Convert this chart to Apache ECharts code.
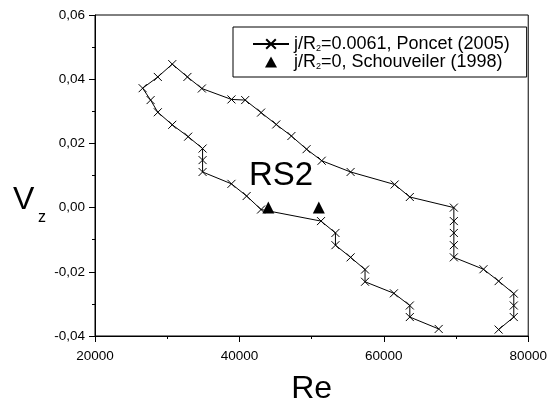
<!DOCTYPE html>
<html>
<head>
<meta charset="utf-8">
<script src="https://cdn.jsdelivr.net/npm/echarts@6/dist/echarts.min.js"></script>
<style>html,body{margin:0;padding:0;background:#fff}#c{width:550px;height:410px}</style>
</head>
<body>
<div id="c"></div>
<script>
// Poncet (2005), j/R2 = 0.0061 : Re and Vz along the curve (drawing order)
const poncetRe = [67600, 63600, 63600, 61400, 57400, 57400, 55400, 53300, 53300, 51300,
  43000, 41000, 38900, 34900, 34900, 34900, 32900, 30700, 28700, 27700,
  26600, 28700, 30700, 32800, 34800, 38900, 40800, 43000, 45100, 47200,
  49300, 51400, 55400, 61500, 63600, 69700, 69700, 69700, 69700, 69700,
  73800, 75900, 78000, 78000, 78000, 75900];
const poncetVz = [-0.0378, -0.0341, -0.0305, -0.0267, -0.0231, -0.0193, -0.0155, -0.0117, -0.0079, -0.0042,
  -0.0006, 0.0036, 0.0074, 0.0111, 0.0148, 0.0184, 0.0221, 0.0258, 0.0297, 0.0335,
  0.0372, 0.0407, 0.0447, 0.0407, 0.0371, 0.0337, 0.0335, 0.0296, 0.0259, 0.0223,
  0.0182, 0.0146, 0.0111, 0.0072, 0.0033, 0.0000, -0.0042, -0.0079, -0.0117, -0.0155,
  -0.0192, -0.0229, -0.0268, -0.0305, -0.0341, -0.0380];
// Schouveiler (1998), j/R2 = 0
const schouRe = [44000, 51000];
const schouVz = [0.0, 0.0];

const xTicks = [20000, 40000, 60000, 80000];
const yTicks = [-0.04, -0.02, 0.00, 0.02, 0.04, 0.06];

const seriesNames = ['j/R2=0.0061, Poncet (2005)', 'j/R2=0, Schouveiler (1998)'];
const legendRich = {
  [seriesNames[0]]: '{t|j/R}{s|2}{t|=0.0061, Poncet (2005)}',
  [seriesNames[1]]: '{t|j/R}{s|2}{t|=0, Schouveiler (1998)}'
};

const FONT = '"Liberation Sans", Arial, Helvetica, sans-serif';
const chart = echarts.init(document.getElementById('c'), null, {renderer: 'canvas'});

const crossPath = 'path://M0,0L10,10M10,0L0,10';
// legend icon: a 12x11 triangle centred in a 36x12 box (the moveTo points fix the box)
const legendTriangle = 'path://M0,0M36,12M12,11.5L18,0.5L24,11.5Z';

chart.setOption({
  animation: false,
  backgroundColor: '#fff',
  textStyle: {fontFamily: FONT, color: '#000'},
  grid: {left: 95, right: 17, top: 15, bottom: 71, show: true, borderColor: '#000', borderWidth: 1, backgroundColor: 'transparent'},
  xAxis: {
    type: 'value', min: xTicks[0], max: xTicks[xTicks.length - 1], interval: 20000,
    axisLine: {show: true, onZero: false, lineStyle: {color: '#000', width: 1}},
    axisTick: {show: true, inside: false, length: 6, lineStyle: {color: '#000'}},
    minorTick: {show: true, splitNumber: 2, length: 3, lineStyle: {color: '#000'}},
    splitLine: {show: false},
    axisLabel: {fontSize: 13.5, color: '#000', fontFamily: FONT, margin: 13, formatter: v => String(v)},
    name: 'Re', nameLocation: 'middle', nameGap: 37,
    nameTextStyle: {fontSize: 32, color: '#000', fontFamily: FONT}
  },
  yAxis: {
    type: 'value', min: yTicks[0], max: yTicks[yTicks.length - 1], interval: 0.02,
    axisLine: {show: true, onZero: false, lineStyle: {color: '#000', width: 1}},
    axisTick: {show: true, inside: false, length: 6, lineStyle: {color: '#000'}},
    minorTick: {show: true, splitNumber: 2, length: 3, lineStyle: {color: '#000'}},
    splitLine: {show: false},
    axisLabel: {fontSize: 13.5, color: '#000', fontFamily: FONT, margin: 10,
      formatter: v => v.toFixed(2).replace('.', ',')}
  },
  legend: {
    left: 233, top: 27, orient: 'vertical',
    padding: [8, 17, 6, 19], itemGap: 0, itemWidth: 36, itemHeight: 12,
    borderColor: '#000', borderWidth: 1, borderRadius: 0, backgroundColor: '#fff',
    data: [{name: seriesNames[0]}, {name: seriesNames[1], icon: legendTriangle}],
    formatter: name => legendRich[name],
    textStyle: {
      color: '#000', fontFamily: FONT, fontSize: 18,
      rich: {
        t: {fontSize: 18, lineHeight: 18, fontFamily: FONT, color: '#000'},
        s: {fontSize: 9, lineHeight: 18, fontFamily: FONT, color: '#000', verticalAlign: 'bottom'}
      }
    }
  },
  graphic: [
    {type: 'text', left: 13, top: 184, style: {text: 'V', fontSize: 32, fontFamily: FONT, fill: '#000'}},
    {type: 'text', left: 38, top: 210, style: {text: 'z', fontSize: 16, fontFamily: FONT, fill: '#000'}},
    {type: 'text', left: 249, top: 159, style: {text: 'RS2', fontSize: 33, fontFamily: FONT, fill: '#000'}}
  ],
  series: [
    {
      name: seriesNames[0], type: 'line',
      data: poncetRe.map((x, i) => [x, poncetVz[i]]),
      symbol: crossPath, symbolSize: 8,
      lineStyle: {color: '#000', width: 1},
      itemStyle: {color: '#000', borderColor: '#000', borderWidth: 1},
      emphasis: {disabled: true}
    },
    {
      name: seriesNames[1], type: 'scatter',
      data: schouRe.map((x, i) => [x, schouVz[i]]),
      symbol: 'triangle', symbolSize: 12, symbolKeepAspect: true,
      itemStyle: {color: '#000', opacity: 1},
      emphasis: {disabled: true}
    }
  ]
});
</script>
</body>
</html>
